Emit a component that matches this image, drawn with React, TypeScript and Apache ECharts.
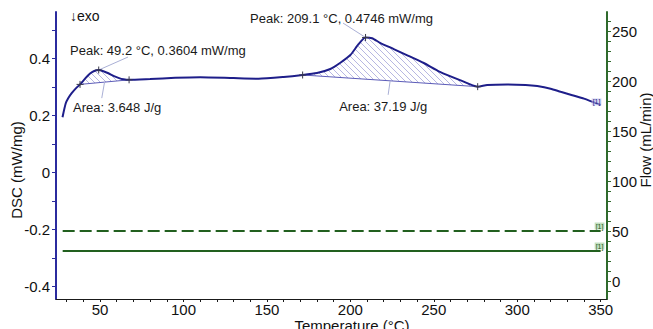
import React, { useEffect, useRef } from "react";
import * as echarts from "echarts";

// DSC trace: temperature (°C) and heat flow (mW/mg)
const temperature = [
  27.5, 29.4, 31, 33, 35.5, 38, 41, 44, 46.5, 49.2,
  52, 55, 58, 61, 64, 67.4, 80, 95, 110, 130,
  145, 160, 171.4, 180, 188, 194, 200, 205, 209.1, 213,
  217.8, 226, 233.8, 244, 253.7, 265.7, 276.3, 282, 294, 305,
  312, 320, 326, 333, 340, 350,
];
const dsc = [
  0.195, 0.243, 0.262, 0.279, 0.296, 0.31, 0.33, 0.348, 0.357, 0.3604,
  0.356, 0.349, 0.34, 0.333, 0.328, 0.326, 0.329, 0.333, 0.335, 0.332,
  0.33, 0.336, 0.343, 0.35, 0.364, 0.386, 0.413, 0.452, 0.4746, 0.472,
  0.456, 0.434, 0.413, 0.385, 0.354, 0.325, 0.302, 0.308, 0.31, 0.308,
  0.304, 0.295, 0.284, 0.272, 0.26, 0.238,
];

// Gas flows (mL/min)
const flowTemperature = [27.6, 350];
const purgeFlow = [50, 50];
const protectiveFlow = [30, 30];

// Evaluated effects
const peakTemperature = [49.2, 209.1];
const peakDsc = [0.3604, 0.4746];
const peakLabel = ["Peak: 49.2 °C, 0.3604 mW/mg", "Peak: 209.1 °C, 0.4746 mW/mg"];
const areaStart = [38, 171.4];
const areaEnd = [67.4, 276.3];
const areaLabel = ["Area: 3.648 J/g", "Area: 37.19 J/g"];

// Axis ticks
const xMajorTicks = [50, 100, 150, 200, 250, 300, 350];
const xMinorTicks = [30, 40, 50, 60, 70, 80, 90, 100, 110, 120, 130, 140, 150, 160, 170, 180, 190, 200, 210, 220, 230, 240, 250, 260, 270, 280, 290, 300, 310, 320, 330, 340, 350];
const dscMajorTicks = [-0.4, -0.2, 0, 0.2, 0.4];
const dscMinorTicks = [-0.4, -0.3, -0.2, -0.1, 0, 0.1, 0.2, 0.3, 0.4, 0.5];
const flowMajorTicks = [0, 50, 100, 150, 200, 250];
const flowMinorTicks = [-10, 0, 10, 20, 30, 40, 50, 60, 70, 80, 90, 100, 110, 120, 130, 140, 150, 160, 170, 180, 190, 200, 210, 220, 230, 240, 250, 260];

// Styling and annotation layout (pixel offsets from the anchored point)
const FONT = "'Liberation Sans', Arial, Helvetica, sans-serif";
const DSC_COLOR = "#1e1e8a";
const DSC_AXIS = "#2b2b9e";
const FLOW_COLOR = "#22601f";
const FLOW_AXIS = "#2f6a2c";
const LEADER = "#aab0d6";
const HATCH = "#a4a4da";
const peakNoteLayout = [
  { label: [-28.7, -20], leader: [29.3, -13] },
  { label: [-115.5, -19.4], leader: [-22.5, -14.4] },
];
const areaNoteLayout = [
  { label: [-31.5, 25], leader: [-2.8, 16] },
  { label: [-51, 26], leader: [-2, 14] },
];
const HATCH_STEP = 6;

const dscAt = (t: number) => dsc[temperature.indexOf(t)];

// Hatched region between the DSC curve and the straight integration baseline
function renderArea(params: any, api: any) {
  const i = params.dataIndex;
  const poly: number[][] = [];
  for (let k = 0; k < temperature.length; k++) {
    if (temperature[k] >= areaStart[i] && temperature[k] <= areaEnd[i]) {
      poly.push(api.coord([temperature[k], dsc[k]]));
    }
  }
  const children: any[] = [];
  const g = (p: number[]) => p[1] - p[0];
  const cs = poly.map(g);
  const cmin = Math.min(...cs);
  const cmax = Math.max(...cs);
  for (let c = Math.ceil(cmin / HATCH_STEP) * HATCH_STEP; c <= cmax; c += HATCH_STEP) {
    const xs: number[] = [];
    for (let k = 0; k < poly.length; k++) {
      const a = poly[k];
      const b = poly[(k + 1) % poly.length];
      const fa = g(a) - c;
      const fb = g(b) - c;
      if (fa < 0 !== fb < 0) {
        const t = fa / (fa - fb);
        xs.push(a[0] + t * (b[0] - a[0]));
      }
    }
    xs.sort((m, n) => m - n);
    for (let k = 0; k + 1 < xs.length; k += 2) {
      children.push({
        type: "line",
        shape: { x1: xs[k], y1: c + xs[k], x2: xs[k + 1], y2: c + xs[k + 1] },
        style: { stroke: HATCH, lineWidth: 0.8 },
      });
    }
  }
  const first = poly[0];
  const last = poly[poly.length - 1];
  children.push({
    type: "line",
    shape: { x1: first[0], y1: first[1], x2: last[0], y2: last[1] },
    style: { stroke: "#5c5cb8", lineWidth: 1 },
  });
  return { type: "group", children };
}

function renderPeakNote(params: any, api: any) {
  const i = params.dataIndex;
  const p = api.coord([api.value(0), api.value(1)]);
  const lay = peakNoteLayout[i];
  return {
    type: "group",
    children: [
      {
        type: "line",
        shape: { x1: p[0] + lay.leader[0], y1: p[1] + lay.leader[1], x2: p[0], y2: p[1] },
        style: { stroke: LEADER, lineWidth: 1 },
      },
      {
        type: "text",
        x: p[0] + lay.label[0],
        y: p[1] + lay.label[1],
        style: { text: peakLabel[i], font: `13px ${FONT}`, fill: "#1a1a1a", textAlign: "left", textVerticalAlign: "middle" },
      },
    ],
  };
}

function renderAreaNote(params: any, api: any) {
  const i = params.dataIndex;
  const p = api.coord([api.value(0), api.value(1)]);
  const lay = areaNoteLayout[i];
  return {
    type: "group",
    children: [
      {
        type: "line",
        shape: { x1: p[0], y1: p[1], x2: p[0] + lay.leader[0], y2: p[1] + lay.leader[1] },
        style: { stroke: LEADER, lineWidth: 1 },
      },
      {
        type: "text",
        x: p[0] + lay.label[0],
        y: p[1] + lay.label[1],
        style: { text: areaLabel[i], font: `13px ${FONT}`, fill: "#1a1a1a", textAlign: "left", textVerticalAlign: "middle" },
      },
    ],
  };
}

function renderCross(_params: any, api: any) {
  const p = api.coord([api.value(0), api.value(1)]);
  const s = 3.5;
  const style = { stroke: "#3a3a4a", lineWidth: 1 };
  return {
    type: "group",
    children: [
      { type: "line", shape: { x1: p[0] - s, y1: p[1], x2: p[0] + s, y2: p[1] }, style },
      { type: "line", shape: { x1: p[0], y1: p[1] - s, x2: p[0], y2: p[1] + s }, style },
    ],
  };
}

export default function App() {
  const ref = useRef<HTMLDivElement>(null);

  useEffect(() => {
    if (!ref.current) return;
    const chart = echarts.init(ref.current, undefined, { renderer: "svg" });

    const dscData = temperature.map((t, i) => [t, dsc[i]]);
    const crossData = [
      ...areaStart.map((t) => [t, dscAt(t)]),
      ...peakTemperature.map((t, i) => [t, peakDsc[i]]),
      ...areaEnd.map((t) => [t, dscAt(t)]),
    ];
    const areaMid = areaStart.map((s, i) => [(s + areaEnd[i]) / 2, (dscAt(s) + dscAt(areaEnd[i])) / 2]);

    const endTag = (color: string, bg: string, offset: number[]) => ({
      show: true,
      formatter: "[1]",
      fontSize: 7,
      fontFamily: FONT,
      color,
      backgroundColor: bg,
      padding: [0, 1],
      offset,
    });

    chart.setOption({
      animation: false,
      textStyle: { fontFamily: FONT },
      grid: { left: 56, right: 46, top: 12, bottom: 30 },
      xAxis: {
        type: "value",
        min: 23.6,
        max: 353.8,
        axisLine: { show: true, onZero: false, lineStyle: { color: "#1a1a1a", width: 1 } },
        axisTick: { show: true, customValues: xMinorTicks, length: 3, lineStyle: { color: "#1a1a1a" } },
        axisLabel: { customValues: xMajorTicks, fontSize: 15, color: "#111", margin: 3, fontFamily: FONT },
        splitLine: { show: false },
      },
      yAxis: [
        {
          type: "value",
          min: -0.443,
          max: 0.564,
          position: "left",
          axisLine: { show: true, onZero: false, lineStyle: { color: DSC_AXIS, width: 2 } },
          axisTick: { show: true, customValues: dscMinorTicks, length: 4, lineStyle: { color: DSC_AXIS } },
          axisLabel: {
            customValues: dscMajorTicks,
            fontSize: 15,
            color: "#111",
            margin: 6,
            fontFamily: FONT,
            formatter: (v: number) => (Math.abs(v) < 1e-9 ? "0" : v.toFixed(1)),
          },
          splitLine: { show: false },
        },
        {
          type: "value",
          min: -18,
          max: 269,
          position: "right",
          axisLine: { show: true, onZero: false, lineStyle: { color: FLOW_AXIS, width: 2 } },
          axisTick: { show: true, customValues: flowMinorTicks, length: 4, lineStyle: { color: FLOW_AXIS } },
          axisLabel: { customValues: flowMajorTicks, fontSize: 15, color: "#111", margin: 5, fontFamily: FONT },
          splitLine: { show: false },
        },
      ],
      graphic: [
        {
          type: "text",
          x: 70,
          y: 16,
          style: { text: "↓exo", font: `14px ${FONT}`, fill: "#111", textAlign: "left", textVerticalAlign: "middle" },
        },
        {
          type: "text",
          x: 16,
          y: 170,
          rotation: Math.PI / 2,
          style: { text: "DSC (mW/mg)", font: `15px ${FONT}`, fill: "#111", textAlign: "center", textVerticalAlign: "middle" },
        },
        {
          type: "text",
          x: 645,
          y: 140,
          rotation: Math.PI / 2,
          style: { text: "Flow (mL/min)", font: `15px ${FONT}`, fill: "#111", textAlign: "center", textVerticalAlign: "middle" },
        },
        {
          type: "text",
          x: 352,
          y: 325,
          style: { text: "Temperature (°C)", font: `15px ${FONT}`, fill: "#111", textAlign: "center", textVerticalAlign: "middle" },
        },
      ],
      series: [
        {
          name: "Peak areas",
          type: "custom",
          yAxisIndex: 0,
          clip: false,
          z: 2,
          renderItem: renderArea,
          data: areaMid,
        },
        {
          name: "Purge flow",
          type: "line",
          yAxisIndex: 1,
          showSymbol: false,
          symbol: "none",
          lineStyle: { color: FLOW_COLOR, width: 2, type: [12, 5] },
          data: flowTemperature.map((t, i) => [t, purgeFlow[i]]),
          endLabel: endTag(FLOW_COLOR, "rgba(170,210,165,0.7)", [-14, -5]),
          z: 3,
        },
        {
          name: "Protective flow",
          type: "line",
          yAxisIndex: 1,
          showSymbol: false,
          symbol: "none",
          lineStyle: { color: FLOW_COLOR, width: 2 },
          data: flowTemperature.map((t, i) => [t, protectiveFlow[i]]),
          endLabel: endTag(FLOW_COLOR, "rgba(170,210,165,0.7)", [-14, -5]),
          z: 3,
        },
        {
          name: "DSC",
          type: "line",
          yAxisIndex: 0,
          showSymbol: false,
          symbol: "none",
          smooth: 0.2,
          lineStyle: { color: DSC_COLOR, width: 2 },
          data: dscData,
          endLabel: endTag(DSC_COLOR, "rgba(190,190,235,0.6)", [-17, -3]),
          z: 5,
        },
        {
          name: "Peak notes",
          type: "custom",
          yAxisIndex: 0,
          clip: false,
          z: 4,
          renderItem: renderPeakNote,
          data: peakTemperature.map((t, i) => [t, peakDsc[i]]),
        },
        {
          name: "Area notes",
          type: "custom",
          yAxisIndex: 0,
          clip: false,
          z: 4,
          renderItem: renderAreaNote,
          data: areaMid,
        },
        {
          name: "Evaluation points",
          type: "custom",
          yAxisIndex: 0,
          clip: false,
          z: 6,
          renderItem: renderCross,
          data: crossData,
        },
      ],
    });

    return () => chart.dispose();
  }, []);

  return (
    <div
      ref={ref}
      style={{ position: "fixed", left: 0, top: 0, width: 653, height: 329, background: "#fff" }}
    />
  );
}
